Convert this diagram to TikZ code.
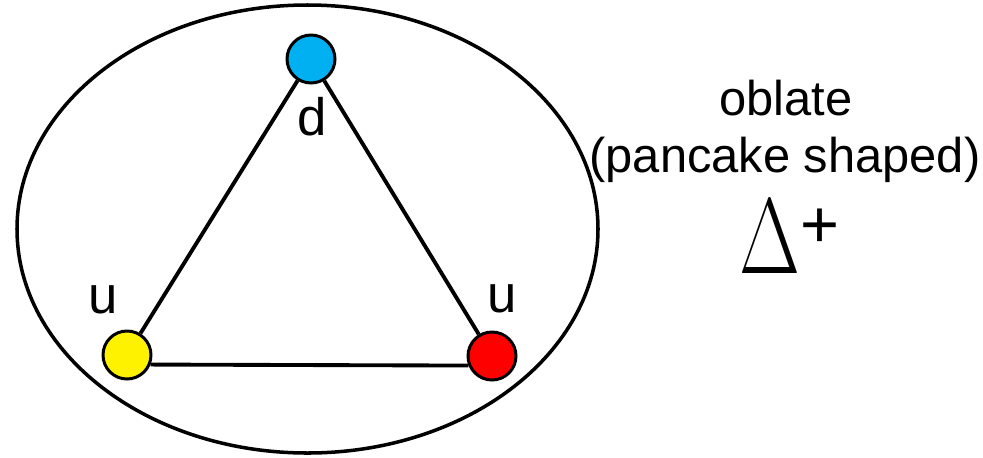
\RequirePackage{fix-cm}
\documentclass[tikz,border=0pt]{standalone}
\usepackage{fontspec}
\setmainfont{Liberation Sans}
\usetikzlibrary{positioning}

\definecolor{quarkblue}{RGB}{0,176,240}

\begin{document}
\begin{tikzpicture}[x=0.02cm, y=-0.02cm]
    \tikzset{
        quark/.style={circle, draw, line width=1.7pt, minimum size=0.96cm, inner sep=0pt},
        bond/.style={line width=2.2pt},
        flavour/.style={anchor=base, inner sep=0pt, font=\fontsize{30}{30}\selectfont},
        caption/.style={anchor=base, inner sep=0pt, font=\fontsize{27.8}{30}\selectfont}
    }

    % Constants
    \pgfmathsetmacro{\xzero}{307.5}
    \pgfmathsetmacro{\yzero}{229}

    \useasboundingbox (0,0) rectangle (983,457);

    % Bag
    \draw [line width=2pt] (\xzero, \yzero) ellipse [x radius=290.5, y radius=224];

    % Quarks
    \node [quark, fill=quarkblue] (d) at (311,59) {};
    \node [quark, fill=yellow] (ul) at (127,355) {};
    \node [quark, fill=red] (ur) at (492,356) {};

    % Bonds
    \draw [bond] (d) -- (ul);
    \draw [bond] (d) -- (ur);
    \draw [bond] (ul.-22) -- (ur.202);

    % Flavours
    \node [flavour] (dlabel) at (312,135) {d};
    \node [flavour] (ullabel) at (103,313) {u};
    \node [flavour] (urlabel) at (502,312) {u};

    % Shape
    \node [caption] (oblate) at (786,115) {oblate};
    \node [caption] (pancake) at (785,172) {(pancake shaped)};
    \node [anchor=base west, inner sep=0pt] (baryon) at (739,273)
        {\fontsize{51}{51}\selectfont\scalebox{0.88}[1.2]{$\Delta$}\raisebox{14.5pt}{\fontsize{38}{38}\selectfont +}};

\end{tikzpicture}
\end{document}
